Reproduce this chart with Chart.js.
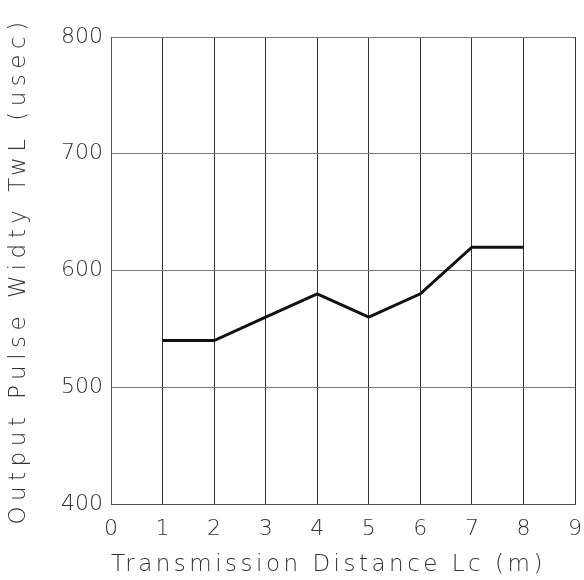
<!DOCTYPE html>
<html>
<head>
<meta charset="utf-8">
<script src="https://cdn.jsdelivr.net/npm/chart.js@4"></script>
<style>
  html, body { margin: 0; padding: 0; background: #fff; }
</style>
</head>
<body>
<canvas id="chart" width="584" height="580"></canvas>
<script>
// Distance (m) vs output pulse width (usec)
const distances = [1, 2, 3, 4, 5, 6, 7, 8];
const pulseWidths = [540, 540, 560, 580, 560, 580, 620, 620];
const xTicks = [0, 1, 2, 3, 4, 5, 6, 7, 8, 9];
const yTicks = [400, 500, 600, 700, 800];

const points = distances.map((d, i) => ({ x: d, y: pulseWidths[i] }));

const fontFamily = '"DejaVu Sans", sans-serif';

// wide letter spacing on the axis titles only, like the plotter font
const titleSpacing = {
  id: 'titleSpacing',
  beforeDraw(chart) {
    Object.values(chart.scales).forEach((scale) => {
      if (scale._spaced) return;
      const orig = scale.drawTitle;
      const gap = scale.isHorizontal() ? '3.5px' : '5.5px';
      scale.drawTitle = function () {
        const ctx = this.ctx;
        ctx.save();
        ctx.letterSpacing = gap;
        orig.call(this);
        ctx.restore();
      };
      scale._spaced = true;
    });
  }
};

new Chart(document.getElementById('chart'), {
  type: 'line',
  data: {
    datasets: [{
      data: points,
      borderColor: '#111',
      borderWidth: 3,
      pointRadius: 0,
      tension: 0,
      fill: false
    }]
  },
  options: {
    responsive: false,
    animation: false,
    devicePixelRatio: 1,
    layout: { padding: { top: 37, right: 9, left: 0, bottom: 0 } },
    plugins: { legend: { display: false }, tooltip: { enabled: false } },
    scales: {
      x: {
        type: 'linear',
        min: 0,
        max: 9,
        afterBuildTicks: (s) => { s.ticks = xTicks.map(v => ({ value: v })); },
        afterFit: (s) => { s.height = 76; },
        grid: { color: '#333', lineWidth: 1, drawTicks: true, tickLength: 12, tickColor: 'rgba(0,0,0,0)' },
        border: { color: '#555', width: 1 },
        ticks: {
          padding: 0,
          color: '#333',
          font: { family: fontFamily, size: 22, weight: 200 }
        },
        title: {
          display: true,
          align: 'start',
          text: 'Transmission Distance Lc (m)',
          color: '#333',
          font: { family: fontFamily, size: 23, weight: 200 },
          padding: { top: 0, bottom: 1 }
        }
      },
      y: {
        type: 'linear',
        min: 400,
        max: 800,
        afterBuildTicks: (s) => { s.ticks = yTicks.map(v => ({ value: v })); },
        afterFit: (s) => { s.width = 111; },
        grid: { color: '#777', lineWidth: 1, drawTicks: false },
        border: { color: '#555', width: 1 },
        ticks: {
          padding: 8,
          color: '#333',
          font: { family: fontFamily, size: 22, weight: 200 }
        },
        title: {
          display: true,
          text: 'Output Pulse Widty TwL (usec)',
          color: '#333',
          font: { family: fontFamily, size: 23, weight: 200 },
          padding: { top: 5, bottom: 0 }
        }
      }
    }
  },
  plugins: [titleSpacing]
});
</script>
</body>
</html>
